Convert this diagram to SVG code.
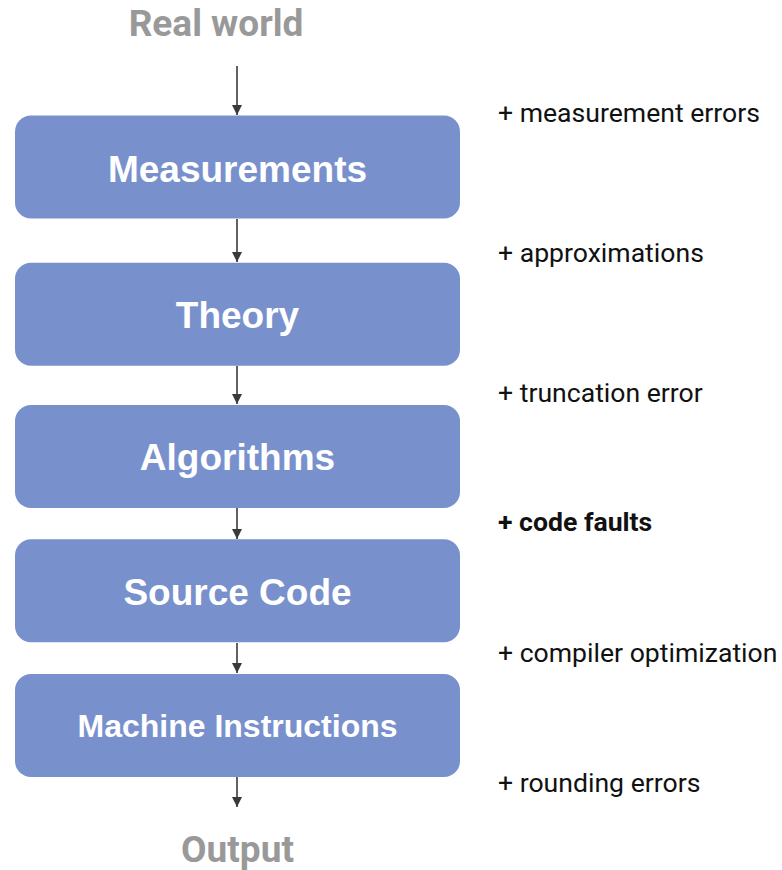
<svg xmlns="http://www.w3.org/2000/svg" width="782" height="870" viewBox="0 0 782 870">
  <style>
    .box { fill: #7891cd; }
    .node-label { font-family: "Liberation Sans", Arial, sans-serif; font-weight: bold; fill: #ffffff; text-anchor: middle; }
    .endpoint { font-family: Roboto, "Liberation Sans", sans-serif; font-weight: bold; font-size: 37px; fill: #999999; text-anchor: middle; }
    .note { font-family: Roboto, "Liberation Sans", sans-serif; font-size: 26.6px; fill: #111111; }
    .note.strong { font-weight: bold; }
    .edge { stroke: #3a3a3a; stroke-width: 1.6; fill: none; marker-end: url(#arrow); }
  </style>
  <defs>
    <marker id="arrow" viewBox="0 0 10 14" refX="10" refY="7" markerWidth="10" markerHeight="14" markerUnits="userSpaceOnUse" orient="auto">
      <path d="M0,2 L10,7 L0,12 z" fill="#3a3a3a"/>
    </marker>
  </defs>

  <rect width="782" height="870" fill="#ffffff"/>

  <text id="real-world" class="endpoint" x="216" y="36">Real world</text>

  <g id="connectors">
    <line class="edge" x1="237" y1="66" x2="237" y2="115"/>
    <line class="edge" x1="237" y1="219" x2="237" y2="262"/>
    <line class="edge" x1="237" y1="366" x2="237" y2="404"/>
    <line class="edge" x1="237" y1="508" x2="237" y2="539"/>
    <line class="edge" x1="237" y1="643" x2="237" y2="673"/>
    <line class="edge" x1="237" y1="777" x2="237" y2="807"/>
  </g>

  <g id="measurements">
    <rect class="box" x="15" y="115.5" width="445" height="103" rx="16"/>
    <text class="node-label" x="237.5" y="181.5" font-size="37">Measurements</text>
  </g>
  <g id="theory">
    <rect class="box" x="15" y="262.7" width="445" height="103" rx="16"/>
    <text class="node-label" x="237.5" y="328.3" font-size="37">Theory</text>
  </g>
  <g id="algorithms">
    <rect class="box" x="15" y="405" width="445" height="103" rx="16"/>
    <text class="node-label" x="237.5" y="470" font-size="37">Algorithms</text>
  </g>
  <g id="source-code">
    <rect class="box" x="15" y="539.3" width="445" height="103" rx="16"/>
    <text class="node-label" x="237.5" y="605" font-size="37">Source Code</text>
  </g>
  <g id="machine-instructions">
    <rect class="box" x="15" y="674" width="445" height="103" rx="16"/>
    <text class="node-label" x="237.5" y="737.3" font-size="32">Machine Instructions</text>
  </g>

  <text id="output" class="endpoint" x="237.5" y="861.5">Output</text>

  <g id="notes">
    <text class="note" x="498" y="121.7">+ measurement errors</text>
    <text class="note" x="498" y="261.7">+ approximations</text>
    <text class="note" x="498" y="401.7">+ truncation error</text>
    <text class="note strong" x="498" y="531">+ code faults</text>
    <text class="note" x="498" y="661.7">+ compiler optimization</text>
    <text class="note" x="498" y="791.7">+ rounding errors</text>
  </g>
</svg>
